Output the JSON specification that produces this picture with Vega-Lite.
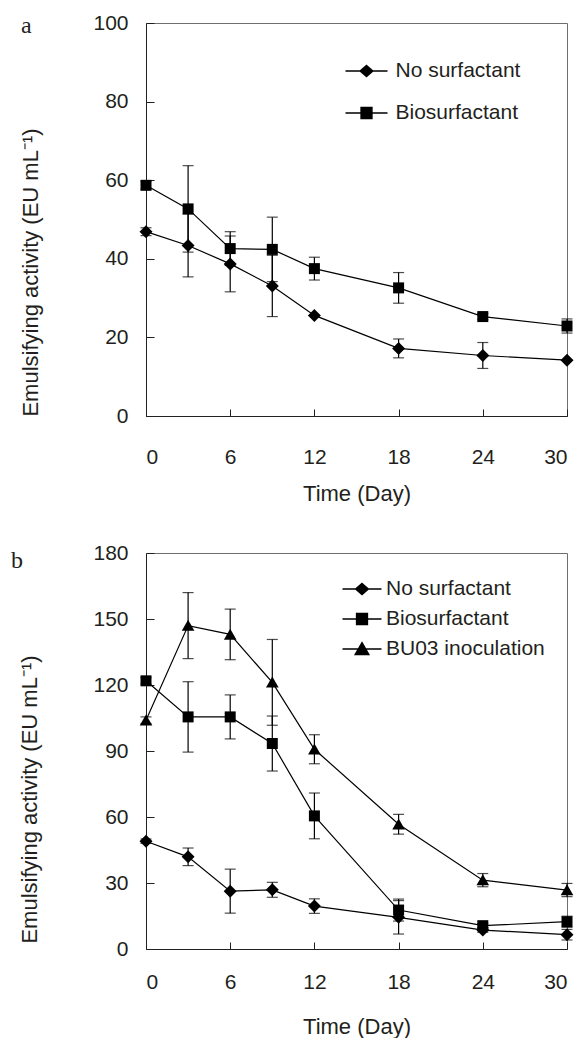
{
  "$schema": "https://vega.github.io/schema/vega-lite/v6.json",
  "padding": {"left": 10, "top": 11, "right": 5, "bottom": 0},
  "background": "white",
  "datasets": {
    "a": [
      {"day": 0, "series": "No surfactant", "ea": 46.9, "sd": 1},
      {"day": 3, "series": "No surfactant", "ea": 43.4, "sd": 8},
      {"day": 6, "series": "No surfactant", "ea": 38.7, "sd": 7.1},
      {"day": 9, "series": "No surfactant", "ea": 33.1, "sd": 7.8},
      {"day": 12, "series": "No surfactant", "ea": 25.6, "sd": 0},
      {"day": 18, "series": "No surfactant", "ea": 17.2, "sd": 2.4},
      {"day": 24, "series": "No surfactant", "ea": 15.4, "sd": 3.3},
      {"day": 30, "series": "No surfactant", "ea": 14.2, "sd": 0},
      {"day": 0, "series": "Biosurfactant", "ea": 58.7, "sd": 1},
      {"day": 3, "series": "Biosurfactant", "ea": 52.7, "sd": 11},
      {"day": 6, "series": "Biosurfactant", "ea": 42.6, "sd": 4.3},
      {"day": 9, "series": "Biosurfactant", "ea": 42.4, "sd": 8.2},
      {"day": 12, "series": "Biosurfactant", "ea": 37.5, "sd": 2.9},
      {"day": 18, "series": "Biosurfactant", "ea": 32.6, "sd": 3.9},
      {"day": 24, "series": "Biosurfactant", "ea": 25.3, "sd": 0.8},
      {"day": 30, "series": "Biosurfactant", "ea": 22.9, "sd": 1.8}
    ],
    "b": [
      {"day": 0, "series": "No surfactant", "ea": 49, "sd": 1},
      {"day": 3, "series": "No surfactant", "ea": 41.9, "sd": 4},
      {"day": 6, "series": "No surfactant", "ea": 26.3, "sd": 10},
      {"day": 9, "series": "No surfactant", "ea": 26.9, "sd": 3.4},
      {"day": 12, "series": "No surfactant", "ea": 19.5, "sd": 3.3},
      {"day": 18, "series": "No surfactant", "ea": 14.4, "sd": 7.6},
      {"day": 24, "series": "No surfactant", "ea": 8.6, "sd": 1},
      {"day": 30, "series": "No surfactant", "ea": 6.5, "sd": 2.4},
      {"day": 0, "series": "Biosurfactant", "ea": 121.9, "sd": 1.5},
      {"day": 3, "series": "Biosurfactant", "ea": 105.5, "sd": 16},
      {"day": 6, "series": "Biosurfactant", "ea": 105.5, "sd": 10},
      {"day": 9, "series": "Biosurfactant", "ea": 93.4, "sd": 12.5},
      {"day": 12, "series": "Biosurfactant", "ea": 60.5, "sd": 10.4},
      {"day": 18, "series": "Biosurfactant", "ea": 17.7, "sd": 5},
      {"day": 24, "series": "Biosurfactant", "ea": 10.6, "sd": 1},
      {"day": 30, "series": "Biosurfactant", "ea": 12.4, "sd": 2.5},
      {"day": 0, "series": "BU03 inoculation", "ea": 104, "sd": 1.5},
      {"day": 3, "series": "BU03 inoculation", "ea": 147, "sd": 15},
      {"day": 6, "series": "BU03 inoculation", "ea": 143, "sd": 11.5},
      {"day": 9, "series": "BU03 inoculation", "ea": 121.2, "sd": 19.5},
      {"day": 12, "series": "BU03 inoculation", "ea": 90.8, "sd": 6.6},
      {"day": 18, "series": "BU03 inoculation", "ea": 56.7, "sd": 4.5},
      {"day": 24, "series": "BU03 inoculation", "ea": 31.3, "sd": 3},
      {"day": 30, "series": "BU03 inoculation", "ea": 26.8, "sd": 3}
    ]
  },
  "spacing": 36,
  "resolve": {"scale": {"x": "independent", "y": "independent", "shape": "independent"}, "legend": {"shape": "independent"}},
  "vconcat": [
    {
      "width": 421,
      "height": 393,
      "data": {"name": "a"},
      "title": {"text": "a", "anchor": "start", "frame": "group", "orient": "top", "offset": -27, "baseline": "alphabetic", "dx": -125, "dy": 18, "font": "Liberation Serif", "fontSize": 24, "fontWeight": "normal", "color": "#231f20"},
      "encoding": {
        "x": {"field": "day", "type": "quantitative", "scale": {"domain": [0, 30], "nice": false},
              "axis": {"values": [0, 6, 12, 18, 24, 30], "title": "Time (Day)", "labelPadding": 37, "titleY": 67, "titleBaseline": "top", "tickSize": -7}},
        "y": {"field": "ea", "type": "quantitative", "scale": {"domain": [0, 100], "nice": false},
              "axis": {"values": [0, 20, 40, 60, 80, 100], "title": "Emulsifying activity (EU mL⁻¹)", "labelPadding": 26, "titleX": -104, "titleY": 249, "titleAngle": -90, "titleBaseline": "bottom", "titleAlign": "center"}}
      },
      "resolve": {"scale": {"shape": "independent"}, "legend": {"shape": "independent"}},
      "layer": [
        {"mark": {"type": "line", "color": "black", "strokeWidth": 1.2}, "encoding": {"detail": {"field": "series"}}},
        {"mark": {"type": "errorbar", "color": "black", "ticks": {"size": 11, "thickness": 1.2, "color": "black"}, "rule": {"strokeWidth": 1.2, "color": "black"}},
         "encoding": {"yError": {"field": "sd"}, "detail": {"field": "series"}}},
        {"mark": {"type": "point", "filled": true, "color": "black", "opacity": 1, "size": 121, "strokeWidth": 0},
         "encoding": {
           "shape": {"field": "series", "type": "nominal", "scale": {"domain": ["No surfactant", "Biosurfactant"], "range": ["M-1.18,0L0,-1.18L1.18,0L0,1.18Z", "square"]}, "legend": null}
         }},
        {"mark": {"type": "point", "filled": true, "fill": "black", "stroke": "black", "strokeWidth": 1.2, "opacity": 0, "size": 900},
         "encoding": {
           "shape": {"field": "series", "type": "nominal", "scale": {"domain": ["No surfactant", "Biosurfactant"], "range": ["M-1.4,0H1.4M0,-0.36L0.42,0L0,0.36L-0.42,0Z", "M-1.4,0H1.4M-0.36,-0.36H0.36V0.36H-0.36Z"]},
             "legend": {"title": null, "orient": "none", "legendX": 204.5, "legendY": 32, "padding": 0, "rowPadding": 16, "labelOffset": 13, "symbolSize": 900, "symbolOpacity": 1,
               "encode": {"symbols": {
                 "size": {"value": 900}, "fill": {"value": "black"}, "stroke": {"value": "black"}, "strokeWidth": {"value": 1.2}, "opacity": {"value": 1}, "fillOpacity": {"value": 1}, "strokeOpacity": {"value": 1}}}}}
         }}
      ]
    },
    {
      "width": 421,
      "height": 396,
      "data": {"name": "b"},
      "title": {"text": "b", "anchor": "start", "frame": "group", "orient": "top", "offset": -24, "baseline": "alphabetic", "dx": -135, "dy": 26, "font": "Liberation Serif", "fontSize": 24, "fontWeight": "normal", "color": "#231f20"},
      "encoding": {
        "x": {"field": "day", "type": "quantitative", "scale": {"domain": [0, 30], "nice": false},
              "axis": {"values": [0, 6, 12, 18, 24, 30], "title": "Time (Day)", "labelPadding": 29, "titleY": 67, "titleBaseline": "top", "tickSize": -7}},
        "y": {"field": "ea", "type": "quantitative", "scale": {"domain": [0, 180], "nice": false},
              "axis": {"values": [0, 30, 60, 90, 120, 150, 180], "title": "Emulsifying activity (EU mL⁻¹)", "labelPadding": 26, "titleX": -105, "titleY": 246, "titleAngle": -90, "titleBaseline": "bottom", "titleAlign": "center"}}
      },
      "resolve": {"scale": {"shape": "independent"}, "legend": {"shape": "independent"}},
      "layer": [
        {"mark": {"type": "line", "color": "black", "strokeWidth": 1.2}, "encoding": {"detail": {"field": "series"}}},
        {"mark": {"type": "errorbar", "color": "black", "ticks": {"size": 11, "thickness": 1.2, "color": "black"}, "rule": {"strokeWidth": 1.2, "color": "black"}},
         "encoding": {"yError": {"field": "sd"}, "detail": {"field": "series"}}},
        {"mark": {"type": "point", "filled": true, "color": "black", "opacity": 1, "size": 121, "strokeWidth": 0},
         "encoding": {
           "shape": {"field": "series", "type": "nominal", "scale": {"domain": ["No surfactant", "Biosurfactant", "BU03 inoculation"], "range": ["M-1.18,0L0,-1.18L1.18,0L0,1.18Z", "square", "M0,-1.05L1.15,0.95H-1.15Z"]}, "legend": null}
         }},
        {"mark": {"type": "point", "filled": true, "fill": "black", "stroke": "black", "strokeWidth": 1.2, "opacity": 0, "size": 900},
         "encoding": {
           "shape": {"field": "series", "type": "nominal", "scale": {"domain": ["No surfactant", "Biosurfactant", "BU03 inoculation"], "range": ["M-1.3,0H1.3M0,-0.36L0.42,0L0,0.36L-0.42,0Z", "M-1.3,0H1.3M-0.36,-0.36H0.36V0.36H-0.36Z", "M-1.3,0H1.3M0,-0.42L0.45,0.36H-0.45Z"]},
             "legend": {"title": null, "orient": "none", "legendX": 200, "legendY": 20, "padding": 0, "rowPadding": 4, "labelOffset": 8, "symbolSize": 900, "symbolOpacity": 1,
               "encode": {"symbols": {
                 "size": {"value": 900}, "fill": {"value": "black"}, "stroke": {"value": "black"}, "strokeWidth": {"value": 1.2}, "opacity": {"value": 1}, "fillOpacity": {"value": 1}, "strokeOpacity": {"value": 1}}}}}
         }}
      ]
    }
  ],
  "config": {
    "view": {"stroke": "#6d6e71", "strokeWidth": 1},
    "axis": {"grid": false, "domainColor": "#231f20", "tickColor": "#231f20", "labelColor": "#231f20", "titleColor": "#231f20",
             "labelFont": "Liberation Sans", "titleFont": "Liberation Sans", "labelFontSize": 21, "titleFontSize": 22, "titleFontWeight": "normal",
             "tickSize": -8, "domainWidth": 1, "tickWidth": 1},
    "legend": {"labelFont": "Liberation Sans", "labelFontSize": 21, "labelColor": "#231f20", "labelBaseline": "middle"}
  }
}
